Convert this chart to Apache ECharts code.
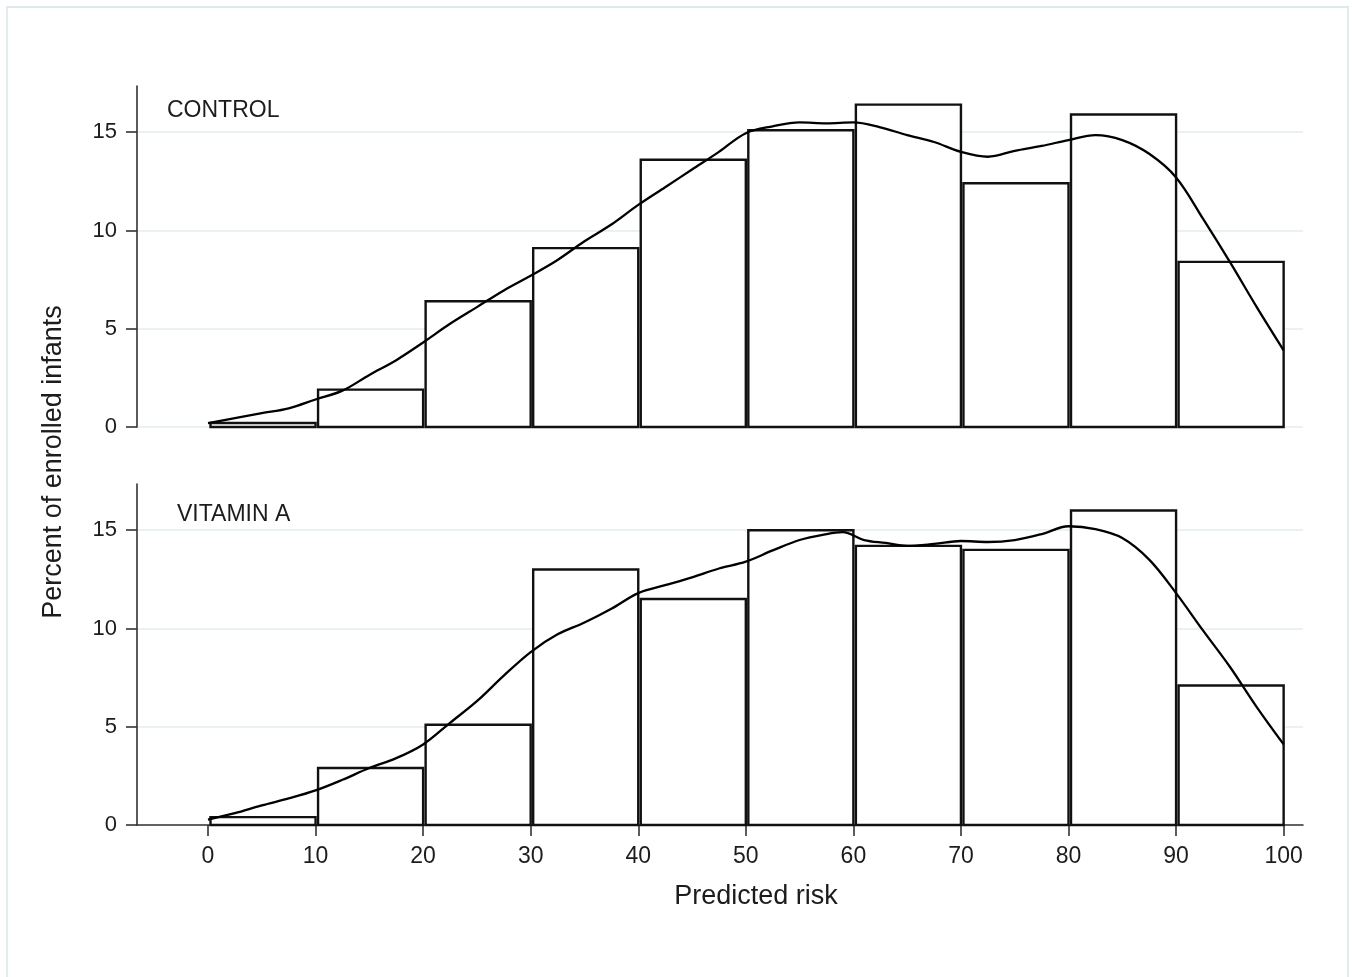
<!DOCTYPE html>
<html>
<head>
<meta charset="utf-8">
<script src="https://cdn.jsdelivr.net/npm/echarts@6/dist/echarts.min.js"></script>
<style>
html,body{margin:0;padding:0;background:#fff;}
#chart{width:1352px;height:977px;}
</style>
</head>
<body>
<div id="chart"></div>
<script>
// ---- data ----
const binStart = [0, 10, 20, 30, 40, 50, 60, 70, 80, 90];
const binEnd   = [10, 20, 30, 40, 50, 60, 70, 80, 90, 100];
const controlPct = [0.2, 1.9, 6.4, 9.1, 13.6, 15.1, 16.4, 12.4, 15.9, 8.4];
const vitaminPct = [0.4, 2.9, 5.1, 13.0, 11.5, 15.0, 14.2, 14.0, 16.0, 7.1];

const controlCurveX = [0, 2.5, 5, 7.5, 10, 12.5, 15, 17.5, 20, 22.5, 25, 27.5, 30, 32.5, 35, 37.5, 40, 42.5, 45, 47.5, 50, 52.5, 55, 57.5, 60, 62.5, 65, 67.5, 70, 72.5, 75, 77.5, 80, 82.5, 85, 87.5, 90, 92.5, 95, 97.5, 100];
const controlCurveY = [0.2, 0.45, 0.7, 0.95, 1.4, 1.85, 2.65, 3.4, 4.3, 5.25, 6.1, 6.95, 7.7, 8.5, 9.45, 10.3, 11.3, 12.2, 13.1, 14.0, 14.95, 15.3, 15.5, 15.45, 15.5, 15.25, 14.85, 14.5, 14.0, 13.75, 14.05, 14.3, 14.6, 14.85, 14.6, 13.9, 12.7, 10.6, 8.4, 6.1, 3.9];

const vitaminCurveX = [0, 2.5, 5, 7.5, 10, 12.5, 15, 17.5, 20, 22.5, 25, 27.5, 30, 32.5, 35, 37.5, 40, 42.5, 45, 47.5, 50, 52.5, 55, 57.5, 59, 61, 63, 65, 67.5, 70, 72.5, 75, 77.5, 80, 82.5, 85, 87.5, 90, 92.5, 95, 97.5, 100];
const vitaminCurveY = [0.27, 0.6, 1.0, 1.35, 1.76, 2.3, 2.9, 3.4, 4.1, 5.2, 6.3, 7.6, 8.8, 9.7, 10.3, 11.0, 11.8, 12.2, 12.6, 13.05, 13.4, 13.97, 14.5, 14.8, 14.9, 14.5, 14.35, 14.2, 14.3, 14.45, 14.4, 14.5, 14.8, 15.2, 15.05, 14.6, 13.5, 11.8, 9.9, 8.05, 6.0, 4.1];

const xTicks = [0, 10, 20, 30, 40, 50, 60, 70, 80, 90, 100];
const yTicks = [0, 5, 10, 15];

const panelLabels = ['CONTROL', 'VITAMIN A'];
const xTitle = 'Predicted risk';
const yTitle = 'Percent of enrolled infants';

// ---- build ----
const FONT = '"Liberation Sans", Arial, Helvetica, sans-serif';
const TXT = '#1c1c1c';

function histData(vals) {
  return binStart.map((s, i) => [s, binEnd[i], vals[i]]);
}
function curveData(xs, ys) {
  return xs.map((x, i) => [x, ys[i]]);
}
function renderBar(params, api) {
  const x0 = api.value(0), x1 = api.value(1), v = api.value(2);
  const pTop = api.coord([x0, v]);
  const pBot = api.coord([x1, 0]);
  const inset = 2.5;
  return {
    type: 'rect',
    shape: { x: pTop[0] + inset, y: pTop[1], width: pBot[0] - pTop[0] - inset, height: pBot[1] - pTop[1] },
    style: { fill: '#fff', stroke: '#111', lineWidth: 2.4 }
  };
}

function makeX(idx, showAxis) {
  return {
    type: 'value', gridIndex: idx, min: -6.6, max: 101.8,
    axisLine: { show: showAxis, onZero: false, lineStyle: { color: '#333', width: 1.6 } },
    axisTick: { show: showAxis, length: 11, customValues: xTicks, lineStyle: { color: '#333', width: 1.6 } },
    axisLabel: { show: showAxis, customValues: xTicks, margin: 20, fontSize: 23, color: TXT, fontFamily: FONT },
    splitLine: { show: false }
  };
}
function makeY(idx) {
  return {
    type: 'value', gridIndex: idx, min: 0, max: 17.35,
    axisLine: { show: true, onZero: false, lineStyle: { color: '#333', width: 1.6 } },
    axisTick: { show: true, length: 11, customValues: yTicks, lineStyle: { color: '#333', width: 1.6 } },
    axisLabel: { customValues: yTicks, margin: 20, fontSize: 22, color: TXT, fontFamily: FONT },
    splitLine: { show: true, lineStyle: { color: '#e2edf2', width: 1.6 } }
  };
}

const option = {
  backgroundColor: '#fff',
  animation: false,
  grid: [
    { left: 137, top: 86, width: 1166, height: 341 },
    { left: 137, top: 484, width: 1166, height: 341 }
  ],
  xAxis: [makeX(0, false), makeX(1, true)],
  yAxis: [makeY(0), makeY(1)],
  series: [
    { type: 'custom', xAxisIndex: 0, yAxisIndex: 0, renderItem: renderBar, data: histData(controlPct), encode: { x: [0, 1], y: 2 }, z: 2 },
    { type: 'custom', xAxisIndex: 1, yAxisIndex: 1, renderItem: renderBar, data: histData(vitaminPct), encode: { x: [0, 1], y: 2 }, z: 2 },
    { type: 'line', xAxisIndex: 0, yAxisIndex: 0, data: curveData(controlCurveX, controlCurveY), smooth: 0.35, showSymbol: false, lineStyle: { color: '#000', width: 2.3 }, z: 5 },
    { type: 'line', xAxisIndex: 1, yAxisIndex: 1, data: curveData(vitaminCurveX, vitaminCurveY), smooth: 0.35, showSymbol: false, lineStyle: { color: '#000', width: 2.3 }, z: 5 }
  ],
  graphic: [
    { type: 'rect', shape: { x: 7, y: 7, width: 1341, height: 1000 }, style: { fill: 'none', stroke: '#dfe9ed', lineWidth: 1.8 }, silent: true },
    { type: 'text', x: 167, y: 111, style: { text: panelLabels[0], font: '23px ' + FONT, fill: TXT, verticalAlign: 'middle', align: 'left' } },
    { type: 'text', x: 177, y: 515, style: { text: panelLabels[1], font: '23px ' + FONT, fill: TXT, verticalAlign: 'middle', align: 'left' } },
    { type: 'text', x: 756, y: 897, style: { text: xTitle, font: '27px ' + FONT, fill: TXT, verticalAlign: 'middle', align: 'center' } },
    { type: 'text', x: 54, y: 462, rotation: Math.PI / 2, style: { text: yTitle, font: '27px ' + FONT, fill: TXT, verticalAlign: 'middle', align: 'center' } }
  ]
};

const chart = echarts.init(document.getElementById('chart'), null, { renderer: 'canvas' });
chart.setOption(option);
</script>
</body>
</html>
